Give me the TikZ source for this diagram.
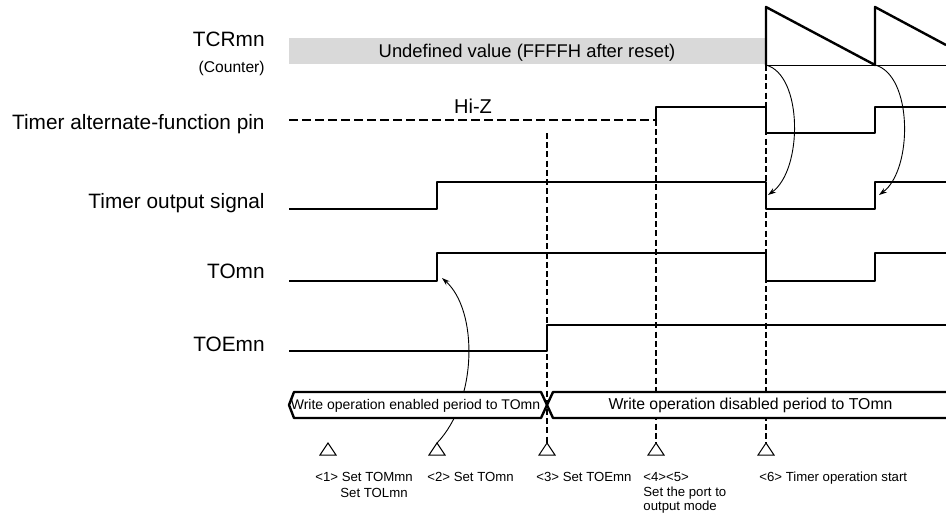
\documentclass[tikz,border=0pt]{standalone}
\usepackage{fontspec}
\setmainfont{Liberation Sans}
\usepackage{tikz}
\usetikzlibrary{arrows.meta}
\tikzset{
    sig/.style={line width=1.2pt, line join=round},
    lbl/.style={anchor=base east, inner sep=0pt, font=\fontsize{10.4}{12.5}\selectfont},
    note/.style={anchor=base west, inner sep=0pt, font=\fontsize{6.6}{7.5}\selectfont},
    guide/.style={line width=0.9pt, dash pattern=on 3pt off 1.6pt},
    cue/.style={-{Stealth[length=4pt,width=2.6pt]}, line width=0.45pt},
}
\begin{document}
\begin{tikzpicture}[x=0.5pt,y=-0.5pt]
        \useasboundingbox (0,0) rectangle (946,515);
        \node[lbl] (tcr) at (265,46) {TCRmn};
        \node[lbl, font=\fontsize{7.8}{9}\selectfont] (cnt) at (265,72) {(Counter)};
        \node[lbl] (pin) at (265,129) {Timer alternate-function pin};
        \node[lbl] (tout) at (265,208) {Timer output signal};
        \node[lbl] (tom) at (265,278) {TOmn};
        \node[lbl] (toe) at (265,351) {TOEmn};
        \fill[black!15] (289,38) rectangle (766,64);
        \node[anchor=base, inner sep=0pt, font=\fontsize{9.2}{11}\selectfont] (undef) at (527,57.5) {Undefined value (FFFFH after reset)};
        \draw[sig] (766,65) -- (766,7) -- (875,65) -- (875,7) -- (946,45);
        \draw[line width=0.5pt] (766,65) -- (946,65);
        \node[anchor=base, inner sep=0pt, font=\fontsize{10}{12}\selectfont] (hiz) at (473,113) {Hi-Z};
        \draw[line width=1.2pt, dash pattern=on 4.5pt off 2pt] (289,120) -- (656,120);
        \draw[sig] (656,120) -- (656,107) -- (766,107) -- (766,133) -- (875,133) -- (875,107) -- (946,107);
        \draw[sig] (289,209) -- (437,209) -- (437,182) -- (766,182) -- (766,209) -- (875,209) -- (875,182) -- (946,182);
        \draw[sig] (289,281) -- (437,281) -- (437,253) -- (766,253) -- (766,281) -- (875,281) -- (875,253) -- (946,253);
        \draw[sig] (289,351) -- (547,351) -- (547,325) -- (946,325);
        \foreach \x/\n in {328/1,437/2,547/3,656/4,766/6}{
            \coordinate (t\n) at (\x,443);
            \draw[line width=0.5pt] (t\n) -- ++(-8,12) -- ++(16,0) -- cycle;
        }
        \draw[guide] (547,133) -- (t3);
        \draw[guide] (656,120) -- (t4);
        \draw[guide] (766,65) -- (t6);
        \coordinate (s6) at (766,65);
        \coordinate (e6) at (768,195);
        \coordinate (s7) at (875,65);
        \coordinate (e7) at (879,195);
        \coordinate (e2) at (442,278);
        \draw[cue] (s6) .. controls (803,75) and (803,170) .. (e6);
        \draw[cue] (s7) .. controls (913,75) and (913,170) .. (e7);
        \draw[cue] (t2) .. controls (478,400) and (478,310) .. (e2);
        \draw[sig, fill=white] (289,405) -- (294,392) -- (541,392) -- (547,405) -- (541,418) -- (294,418) -- cycle;
        \fill[white] (946,392) -- (553,392) -- (547,405) -- (553,418) -- (946,418) -- cycle;
        \draw[sig] (946,392) -- (553,392) -- (547,405) -- (553,418) -- (946,418);
        \node[anchor=base, inner sep=0pt, font=\fontsize{7}{8}\selectfont] (wen) at (415.5,409.5) {Write operation enabled period to TOmn};
        \node[anchor=base, inner sep=0pt, font=\fontsize{7.9}{9}\selectfont] (wdis) at (750.5,409.5) {Write operation disabled period to TOmn};
        \node[note] (n1) at (315,481) {<1> Set TOMmn};
        \node[note] (n1b) at (340,497) {Set TOLmn};
        \node[note] (n2) at (427,481) {<2> Set TOmn};
        \node[note] (n3) at (536,481) {<3> Set TOEmn};
        \node[note] (n4) at (643,481) {<4><5>};
        \node[note] (n4b) at (643,496) {Set the port to};
        \node[note] (n4c) at (643,510) {output mode};
        \node[note] (n6) at (759,481) {<6> Timer operation start};
\end{tikzpicture}
\end{document}
